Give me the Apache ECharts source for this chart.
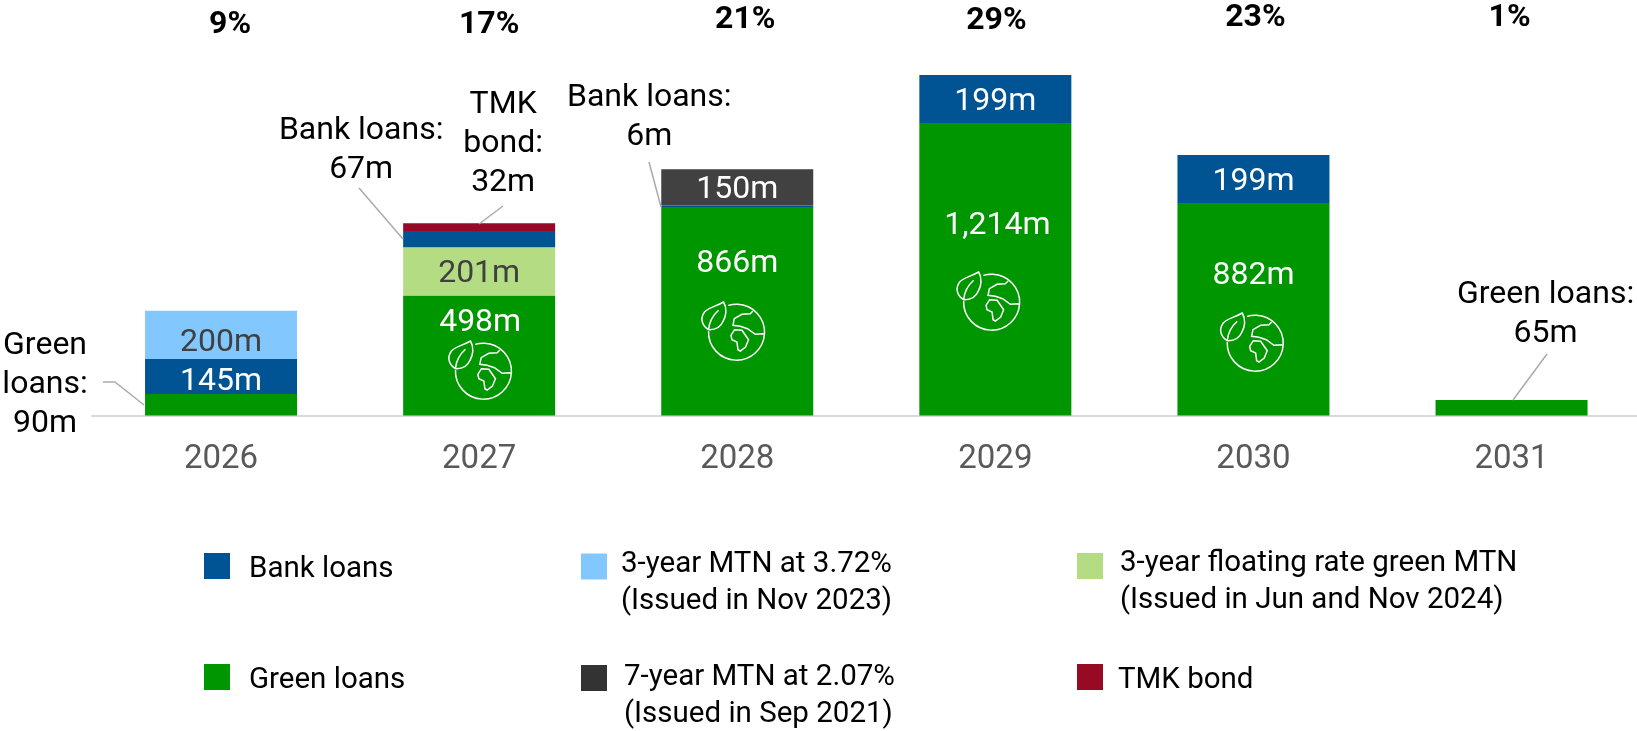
<html>
<head>
    <meta charset="utf-8">
    <title>Debt maturity profile</title>
    <script src="https://cdn.jsdelivr.net/npm/echarts@6/dist/echarts.min.js"></script>
    <style>
        html, body { margin: 0; padding: 0; background: #fff; }
        #main { width: 1637px; height: 731px; }
    </style>
</head>
<body>
<div id="main"></div>

<script>
    // data, in millions
    var years = ['2026', '2027', '2028', '2029', '2030', '2031'];
    var sharePct = ['9%', '17%', '21%', '29%', '23%', '1%'];
    var greenLoans = [90, 498, 866, 1214, 882, 65];
    var floatingMtn = [null, 201, null, null, null, null];
    var bankLoans = [145, 67, 6, 199, 199, null];
    var mtn372 = [200, null, null, null, null, null];
    var mtn207 = [null, null, 150, null, null, null];
    var tmkBond = [null, 32, null, null, null, null];

    var FONT = 'Roboto';
    var LABEL_SIZE = 32;

    // label nudges, by "series|year index"
    var labelOffsets = {
        'Green loans|1': [1, -33],
        'Green loans|2': [0, -47],
        'Green loans|3': [2, -43],
        'Green loans|4': [0, -33],
        'Bank loans|0': [0, 6],
        '3-year MTN at 3.72%|0': [0, 8]
    };

    // small bars get their label outside, with a leader line
    var callouts = {
        'Green loans|0': {text: 'Green\nloans:\n', offset: [-176, -20]},
        'Green loans|5': {text: 'Green loans:\n', offset: [34, -93]},
        'Bank loans|1': {text: 'Bank loans:\n', offset: [-118, -89]},
        'Bank loans|2': {text: 'Bank loans:\n', offset: [-88, -89]},
        'TMK bond|1': {text: 'TMK\nbond:\n', offset: [24, -83]}
    };

    var leaders = [
        [[103, 382], [115, 382], [144, 405]],
        [[359, 188], [403, 239]],
        [[503, 206], [479, 224]],
        [[649, 162], [661, 207]],
        [[1547, 354], [1513, 400]]
    ];

    function fmt(v) {
        return String(v).replace(/\B(?=(\d{3})+$)/g, ',') + 'm';
    }

    function makeSeries(name, values, color, textColor) {
        return {
            name: name,
            type: 'bar',
            stack: 'debt',
            barWidth: 152,
            itemStyle: {color: color},
            label: {
                show: true,
                position: 'inside',
                color: textColor,
                fontFamily: FONT,
                fontSize: LABEL_SIZE,
                lineHeight: 39
            },
            data: values.map(function (v, i) {
                if (v === null) return {value: null, label: {show: false}};
                var key = name + '|' + i;
                var c = callouts[key];
                if (c) {
                    return {
                        value: v,
                        label: {formatter: c.text + fmt(v), offset: c.offset, color: '#000'}
                    };
                }
                return {
                    value: v,
                    label: {formatter: fmt(v), offset: labelOffsets[key] || [0, 3]}
                };
            })
        };
    }

    // one legend per entry since they sit in a loose 3x2 layout
    // top places the text, padTop moves the icon up against it (only works with rich text)
    function makeLegend(name, note, color, left, top, gap, padTop) {
        return {
            data: [{name: name, icon: 'rect', itemStyle: {color: color}}],
            left: left,
            top: top,
            padding: 0,
            itemWidth: 26,
            itemHeight: 26,
            selectedMode: false,
            formatter: function (n) {
                return note ? '{t|' + n + '}\n{t|' + note + '}' : '{t|' + n + '}';
            },
            textStyle: {
                padding: [padTop, 0, 0, gap],
                rich: {
                    t: {
                        fontFamily: FONT,
                        fontSize: 29.5,
                        color: '#000',
                        lineHeight: 37
                    }
                }
            }
        };
    }

    var myChart = echarts.init(document.getElementById('main'));

    var option = {
        animation: false,
        grid: {left: 92, top: 15.6, width: 1548.6, height: 400, outerBoundsMode: 'none'},
        xAxis: {
            type: 'category',
            data: years,
            axisLine: {lineStyle: {color: '#d9d9d9', width: 2}},
            axisTick: {show: false},
            axisLabel: {
                fontFamily: FONT,
                fontSize: 33,
                color: '#595959',
                margin: 28
            }
        },
        yAxis: {
            type: 'value',
            min: 0,
            max: 1660,
            show: false
        },
        legend: [
            makeLegend('Bank loans', '', '#005493', 204, 553, 14, 8),
            makeLegend('3-year MTN at 3.72%', '(Issued in Nov 2023)', '#82c8ff', 581, 549.5, 9, 33),
            makeLegend('3-year floating rate green MTN', '(Issued in Jun and Nov 2024)', '#b4dc82', 1077, 549, 12, 33),
            makeLegend('Green loans', '', '#009600', 204, 664, 14, 8),
            makeLegend('7-year MTN at 2.07%', '(Issued in Sep 2021)', '#333333', 581, 662.5, 12, 36),
            makeLegend('TMK bond', '', '#960a23', 1077, 664, 10, 8)
        ],
        series: [
            makeSeries('Green loans', greenLoans, '#009600', '#fff'),
            makeSeries('3-year floating rate green MTN', floatingMtn, '#b4dc82', '#404040'),
            makeSeries('Bank loans', bankLoans, '#005493', '#fff'),
            makeSeries('3-year MTN at 3.72%', mtn372, '#82c8ff', '#404040'),
            makeSeries('7-year MTN at 2.07%', mtn207, '#414141', '#fff'),
            makeSeries('TMK bond', tmkBond, '#960a23', '#fff')
        ]
    };

    myChart.setOption(option);

    // percentages above the bars, and the globe icons
    var pctSpots = [[9, 25], [10, 25], [8, 20], [1, 21], [2, 18], [-2, 18]];
    var globeSpots = [[1, -31, 340], [2, -36, 301], [3, -39, 271], [4, -33.5, 312]];

    var globeLeaf = 'M22.3 1 C14 6 4 7 2.3 12.7 C-1 18 1 25 7.3 28.7 C13 29 19 27 22 20 C25 15 26 7 22.3 1 Z M7.3 28.7 C8 20 12 14 17.3 9.3';
    var globeBody = 'M7.3 30 A28 28 0 1 0 27 4.4 ' +
        'M51.7 10 L49 12.7 L40.7 13.3 L33 17.7 L31.7 24.3 L39 25.3 L46.3 27.7 L54 33.3 L62.3 32.7 ' +
        'M29.7 34.3 L33.3 28.7 L40.7 29.3 L47.3 38.7 L44.3 46 L39 50 L36.7 48.7 L35.7 41 L30.7 38.7 Z';

    echarts.graphic.registerShape('globeLeaf', echarts.graphic.extendPath(globeLeaf, {}));
    echarts.graphic.registerShape('globeBody', echarts.graphic.extendPath(globeBody, {}));

    var graphics = [];

    pctSpots.forEach(function (p, i) {
        var cx = myChart.convertToPixel({xAxisIndex: 0}, years[i]);
        graphics.push({
            type: 'text',
            x: cx + p[0],
            y: p[1],
            style: {
                text: sharePct[i],
                fill: '#000',
                font: 'bold 32px Roboto',
                textAlign: 'center',
                textVerticalAlign: 'middle'
            }
        });
    });

    leaders.forEach(function (pts) {
        graphics.push({
            type: 'polyline',
            z: 10,
            shape: {points: pts},
            style: {stroke: '#aaaaaa', lineWidth: 1.5, fill: null}
        });
    });

    // z so they land on top of the bars
    globeSpots.forEach(function (g) {
        var cx = myChart.convertToPixel({xAxisIndex: 0}, years[g[0]]);
        ['globeLeaf', 'globeBody'].forEach(function (shape) {
            graphics.push({
                type: shape,
                z: 10,
                x: cx + g[1],
                y: g[2],
                style: {stroke: '#fff', lineWidth: 1.5, fill: null}
            });
        });
    });

    myChart.setOption({graphic: {elements: graphics}});
</script>
</body>
</html>
